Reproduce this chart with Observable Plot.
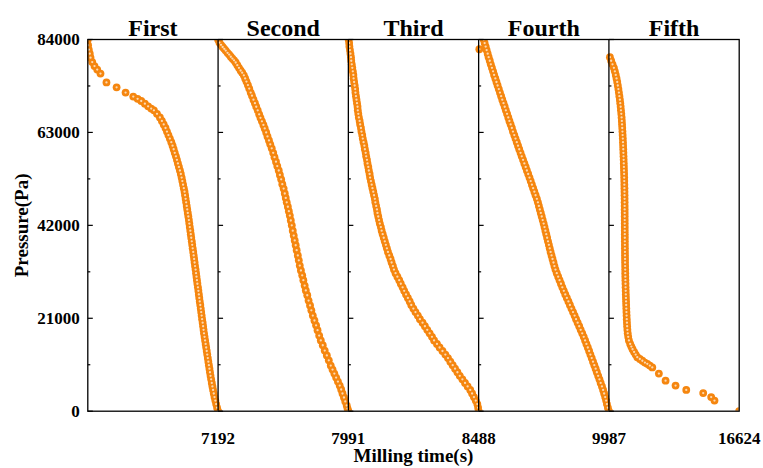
<!DOCTYPE html>
<html><head><meta charset="utf-8">
<script src="https://cdn.jsdelivr.net/npm/d3@7"></script>
<script src="https://cdn.jsdelivr.net/npm/@observablehq/plot@0.6"></script>
<style>
body{margin:0;background:#fff;}
#chart{width:763px;height:468px;}
</style></head><body><div id="chart"></div>
<script>
const panelNames = ["First", "Second", "Third", "Fourth", "Fifth"];
const panelBounds = [0, 7192, 7991, 8488, 9987, 16624];
const xTickLabels = [7192, 7991, 8488, 9987, 16624];
const yTicks = [0, 21000, 42000, 63000, 84000];
const yMinorTicks = [10500, 31500, 52500, 73500];

// [milling time (s), pressure (Pa)]
const first = [[0,84000],[15,82700],[55,81700],[110,80800],[150,79900],[245,78900],[370,78000],[520,77200],[700,76300],[1030,74300],[1590,73200],[2085,72000],[2510,71100],[2750,70600],[2950,70100],[3150,69500],[3330,68900],[3500,68400],[3650,68000],[3820,67200],[3980,66400],[4090,65600],[4190,64800],[4290,64000],[4370,63200],[4450,62400],[4530,61600],[4610,60800],[4680,60000],[4740,59200],[4800,58400],[4865,57600],[4920,56800],[4975,56000],[5030,55200],[5085,54400],[5135,53600],[5180,52800],[5220,52000],[5260,51200],[5300,50400],[5340,49600],[5370,48800],[5400,48000],[5430,47200],[5460,46400],[5490,45600],[5520,44800],[5550,44000],[5580,43200],[5605,42400],[5630,41600],[5660,40800],[5685,40000],[5710,39200],[5740,38400],[5765,37600],[5790,36800],[5820,36000],[5845,35200],[5870,34400],[5895,33600],[5920,32800],[5950,32000],[5975,31200],[6000,30400],[6025,29600],[6050,28800],[6080,28000],[6105,27200],[6130,26400],[6155,25600],[6180,24800],[6210,24000],[6235,23200],[6260,22400],[6285,21600],[6310,20800],[6340,20000],[6365,19200],[6390,18400],[6415,17600],[6445,16800],[6475,16000],[6505,15200],[6535,14400],[6565,13600],[6595,12800],[6625,12000],[6655,11200],[6685,10400],[6715,9600],[6745,8800],[6775,8000],[6810,7200],[6845,6400],[6880,5600],[6915,4800],[6955,4000],[6995,3200],[7040,2400],[7085,1600],[7135,800],[7192,0]];

const second = [[7192,84000],[7200,83300],[7210,82800],[7220,82300],[7230,81900],[7239,81500],[7250,81000],[7260,80600],[7270,80100],[7280,79700],[7290,79300],[7300,78800],[7310,78200],[7320,77600],[7330,77000],[7340,76500],[7350,75900],[7358,75200],[7366,74500],[7375,73700],[7383,72900],[7392,72000],[7400,71300],[7409,70400],[7418,69600],[7426,68800],[7435,68000],[7444,67100],[7452,66300],[7461,65500],[7470,64700],[7478,63900],[7487,63000],[7495,62100],[7504,61200],[7512,60300],[7521,59400],[7530,58400],[7538,57400],[7547,56400],[7555,55400],[7564,54400],[7571,53400],[7579,52400],[7586,51300],[7594,50300],[7601,49200],[7607,48200],[7613,47200],[7620,46200],[7626,45200],[7632,44200],[7638,43100],[7644,42000],[7650,40800],[7656,39700],[7662,38600],[7668,37500],[7674,36400],[7681,35200],[7687,34100],[7693,32900],[7700,31800],[7708,30700],[7715,29600],[7723,28400],[7730,27300],[7739,26200],[7747,25000],[7756,23900],[7764,22800],[7773,21600],[7783,20500],[7793,19400],[7802,18300],[7812,17100],[7822,16000],[7834,14900],[7846,13700],[7859,12600],[7871,11500],[7883,10300],[7894,9400],[7905,8500],[7916,7600],[7927,6700],[7938,5800],[7947,4900],[7955,4000],[7964,3100],[7972,2200],[7981,1300],[7986,600],[7991,0]];

const third = [[7992,84000],[7994,83200],[7995,82400],[7997,81600],[7999,80800],[8001,80000],[8002,79200],[8004,78400],[8006,77600],[8008,76800],[8010,76000],[8011,75200],[8013,74400],[8015,73600],[8017,72800],[8018,72000],[8020,71200],[8022,70400],[8024,69600],[8026,68800],[8027,68000],[8029,67200],[8031,66400],[8034,65600],[8036,64800],[8039,64000],[8041,63200],[8044,62400],[8046,61600],[8049,60800],[8052,60000],[8054,59200],[8057,58400],[8059,57600],[8062,56800],[8064,56000],[8067,55200],[8069,54400],[8072,53600],[8074,52800],[8077,52000],[8080,51200],[8083,50400],[8086,49600],[8089,48800],[8092,48000],[8094,47200],[8097,46400],[8100,45600],[8102,44800],[8105,44000],[8108,43200],[8111,42400],[8115,41600],[8118,40800],[8122,40000],[8126,39200],[8130,38400],[8134,37600],[8138,36800],[8142,36000],[8147,35200],[8152,34400],[8156,33600],[8161,32800],[8165,32000],[8171,31200],[8178,30400],[8185,29600],[8191,28800],[8198,28000],[8204,27200],[8211,26400],[8218,25600],[8225,24800],[8231,24000],[8239,23200],[8247,22400],[8256,21600],[8264,20800],[8274,20000],[8283,19200],[8292,18400],[8301,17600],[8310,16800],[8318,16000],[8329,15200],[8339,14400],[8350,13600],[8361,12800],[8371,12000],[8380,11200],[8389,10400],[8398,9600],[8407,8800],[8416,8000],[8426,7200],[8436,6400],[8446,5600],[8456,4800],[8463,4000],[8470,3200],[8477,2400],[8483,1600],[8486,800],[8488,0]];

const fourth = [[8496,81800],[8546,84000],[8557,83200],[8569,82400],[8580,81600],[8592,80800],[8603,80000],[8616,79200],[8628,78400],[8641,77600],[8654,76800],[8666,76000],[8680,75200],[8693,74400],[8706,73600],[8720,72800],[8733,72000],[8747,71200],[8760,70400],[8774,69600],[8788,68800],[8801,68000],[8815,67200],[8829,66400],[8842,65600],[8856,64800],[8870,64000],[8883,63200],[8898,62400],[8912,61600],[8927,60800],[8941,60000],[8955,59200],[8970,58400],[8984,57600],[8999,56800],[9014,56000],[9029,55200],[9043,54400],[9058,53600],[9073,52800],[9087,52000],[9101,51200],[9115,50400],[9129,49600],[9143,48800],[9158,48000],[9170,47200],[9181,46400],[9192,45600],[9203,44800],[9214,44000],[9225,43200],[9236,42400],[9246,41600],[9256,40800],[9266,40000],[9276,39200],[9286,38400],[9296,37600],[9306,36800],[9316,36000],[9327,35200],[9338,34400],[9349,33600],[9360,32800],[9372,32000],[9387,31200],[9403,30400],[9419,29600],[9435,28800],[9451,28000],[9468,27200],[9485,26400],[9503,25600],[9521,24800],[9538,24000],[9556,23200],[9574,22400],[9592,21600],[9609,20800],[9627,20000],[9645,19200],[9662,18400],[9680,17600],[9697,16800],[9713,16000],[9728,15200],[9744,14400],[9759,13600],[9774,12800],[9789,12000],[9804,11200],[9819,10400],[9834,9600],[9848,8800],[9863,8000],[9878,7200],[9892,6400],[9907,5600],[9920,4800],[9932,4000],[9944,3200],[9955,2400],[9964,1600],[9975,800],[9987,0]];

const fifth = [[10038,80000],[10100,79200],[10170,78400],[10240,77600],[10290,76800],[10335,76000],[10375,75200],[10410,74400],[10440,73600],[10470,72800],[10495,72000],[10520,71200],[10545,70400],[10565,69600],[10585,68800],[10600,68000],[10618,67200],[10633,66400],[10645,65600],[10656,64800],[10666,64000],[10676,63200],[10686,62400],[10695,61600],[10703,60800],[10710,60000],[10717,59200],[10724,58400],[10731,57600],[10738,56800],[10744,56000],[10750,55200],[10755,54400],[10760,53600],[10765,52800],[10769,52000],[10773,51200],[10777,50400],[10780,49600],[10783,48800],[10786,48000],[10787,47200],[10788,46400],[10789,45600],[10790,44800],[10791,44000],[10792,43200],[10793,42400],[10794,41600],[10795,40800],[10796,40000],[10797,39200],[10798,38400],[10800,37600],[10802,36800],[10804,36000],[10806,35200],[10808,34400],[10810,33600],[10813,32800],[10816,32000],[10819,31200],[10823,30400],[10827,29600],[10832,28800],[10837,28000],[10842,27200],[10848,26400],[10854,25600],[10860,24800],[10866,24000],[10873,23200],[10880,22400],[10888,21600],[10896,20800],[10905,20000],[10915,19200],[10928,18400],[10945,17600],[10970,16800],[11005,16000],[11070,15200],[11130,14600],[11190,14000],[11270,13400],[11350,12800],[11433,12200],[11560,11800],[11690,11400],[11820,11000],[11942,10700],[12070,10300],[12196,9900],[12532,8500],[12873,6900],[13382,5800],[13927,4800],[14790,4100],[15197,3200],[15365,2400],[16624,0]];

const series = [first, second, third, fourth, fifth];
const rows = series.flatMap((s, k) => s.map(([t, p]) => ({t, p, panel: panelNames[k]})));

const W = 763, H = 468;
const mL = 87.3, mR = 24.3, mT = 39, mB = 57.3;
const panelW = (W - mL - mR) / 5;
const xRange = panelBounds.map((_, i) => mL + i * panelW);

const starts = panelBounds.slice(0, 5);
const majorTickData = starts.flatMap(x => yTicks.map(y => ({x, y})));
const minorTickData = starts.flatMap(x => yMinorTicks.map(y => ({x, y})));
const tickSym = len => ({draw(ctx) { ctx.moveTo(0, 0); ctx.lineTo(len, 0); }});

const font = "'Liberation Serif','Times New Roman',serif";
const orange = "#f5860f";
const light = "#fcd9b2";

const chart = Plot.plot({
  width: W, height: H,
  marginLeft: mL, marginRight: mR, marginTop: mT, marginBottom: mB,
  style: {fontFamily: font, fontWeight: "bold", background: "white", color: "black", overflow: "visible"},
  x: {type: "linear", domain: panelBounds, range: xRange},
  y: {domain: [0, 84000]},
  marks: [
    Plot.dot(rows, {x: "t", y: "p", r: 3.9, fill: orange, clip: true}),
    Plot.dot(rows, {x: "t", y: "p", r: 1.15, fill: light, clip: true}),
    Plot.ruleX(panelBounds.slice(1, 5), {stroke: "black", strokeWidth: 1.3}),
    Plot.frame({stroke: "black", strokeWidth: 1.3}),
    Plot.dot(majorTickData, {x: "x", y: "y", symbol: tickSym(5), fill: "none", stroke: "black", strokeWidth: 1.2}),
    Plot.dot(minorTickData, {x: "x", y: "y", symbol: tickSym(2.5), fill: "none", stroke: "black", strokeWidth: 1.2}),
    Plot.axisY(yTicks, {tickSize: 0, tickPadding: 8, tickFormat: d3.format("d"), fontSize: 17, label: null}),
    Plot.axisX(xTickLabels, {tickSize: 0, tickPadding: 21, tickFormat: d3.format("d"), fontSize: 17, label: null}),
    Plot.text(panelNames, {x: (d, i) => (panelBounds[i] + panelBounds[i + 1]) / 2, frameAnchor: "top", dy: -4, lineAnchor: "bottom", text: d => d, fontSize: 24, fontWeight: "bold"}),
    Plot.text(["Milling time(s)"], {frameAnchor: "bottom", dy: 51, lineAnchor: "bottom", textAnchor: "middle", text: d => d, fontSize: 19, fontWeight: "bold"}),
    Plot.text(["Pressure(Pa)"], {frameAnchor: "left", dx: -66, rotate: -90, lineAnchor: "middle", textAnchor: "middle", text: d => d, fontSize: 19, fontWeight: "bold"})
  ]
});
document.getElementById("chart").appendChild(chart);
</script></body></html>
